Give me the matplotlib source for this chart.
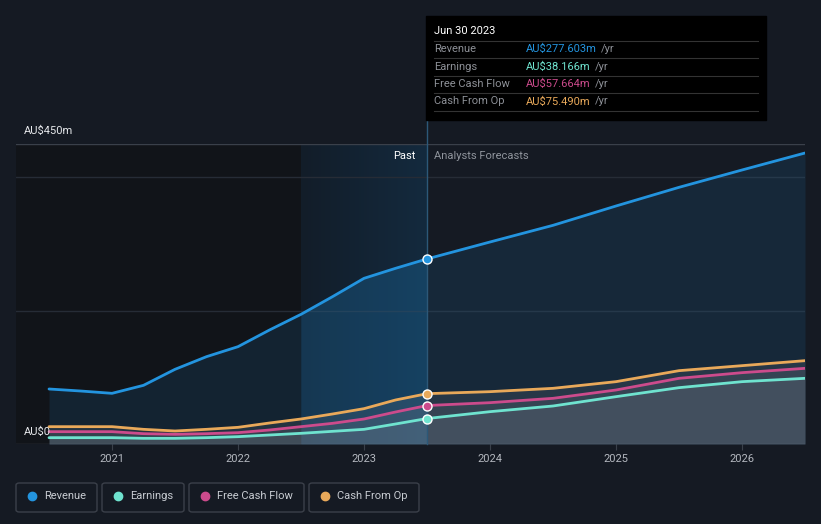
import numpy as np
import matplotlib
matplotlib.use("Agg")
import matplotlib.pyplot as plt
from matplotlib.patches import FancyBboxPatch, Rectangle

plt.rcParams['font.family'] = ['Roboto', 'DejaVu Sans']

# data (AU$ m), decimal years
past_x = [2020.5, 2020.75, 2021.0, 2021.25, 2021.5, 2021.75, 2022.0,
          2022.25, 2022.5, 2022.75, 2023.0, 2023.25, 2023.5]
fc_x = [2023.5, 2024.0, 2024.5, 2025.0, 2025.5, 2026.0, 2026.5]

revenue_past = [82.5, 79.5, 76, 88, 112, 131, 146, 171, 194.5, 221, 248.5, 263.5, 277.6]
revenue_fc = [277.6, 303, 328, 357, 385, 411, 436.5]
earnings_past = [9.5, 9.5, 9.5, 8.5, 8.5, 9.5, 11, 13.5, 16, 19, 22, 30, 38.2]
earnings_fc = [38.2, 48.5, 57, 71, 84.5, 93.5, 98.5]
fcf_past = [18.5, 18.5, 18.5, 15.5, 14.5, 15.5, 17, 21, 26, 31, 37.5, 48, 57.7]
fcf_fc = [57.7, 62, 68.5, 81, 98.5, 107, 113.5]
cfo_past = [26, 26, 26, 22, 19.5, 22, 25, 31.5, 37.5, 45, 53, 66, 75.5]
cfo_fc = [75.5, 78.5, 83.5, 93.5, 110, 117.5, 125]

years = [2021, 2022, 2023, 2024, 2025, 2026]
names = ["Revenue", "Earnings", "Free Cash Flow", "Cash From Op"]
colors = ["#2394df", "#6fe3cf", "#cc4b8c", "#e9a95a"]
tip_values = ["AU$277.603m", "AU$38.166m", "AU$57.664m", "AU$75.490m"]

W, H = 821, 524
bg = "#151a23"
fig = plt.figure(figsize=(W / 100, H / 100), dpi=100, facecolor=bg)
ax = fig.add_axes([16 / W, 80 / H, 789 / W, 300 / H])
ax.set_facecolor(bg)
x0, x1 = 2020.238, 2026.5
ax.set_xlim(x0, x1)
ax.set_ylim(0, 450)
for s in ax.spines.values():
    s.set_visible(False)

# darker past region and highlighted last year
ax.axvspan(x0, 2022.5, color="#111419", zorder=0, lw=0)
grad = np.linspace(0, 1, 200).reshape(1, -1)
ax.imshow(grad, extent=[2022.5, 2023.5, 0, 450], aspect="auto",
          cmap=matplotlib.colors.LinearSegmentedColormap.from_list("h", ["#121d29", "#142a3e"]),
          zorder=0.5)

# grid
for yv, c in [(200, "#262c36"), (400, "#262c36"), (450, "#3a404a"), (0, "#3a404a")]:
    ax.axhline(yv, color=c, lw=1, zorder=1)

series_past = [revenue_past, earnings_past, fcf_past, cfo_past]
series_fc = [revenue_fc, earnings_fc, fcf_fc, cfo_fc]
all_x = past_x + fc_x[1:]

# fills
rev_all = revenue_past + revenue_fc[1:]
ax.fill_between(all_x, rev_all, 0, color="#2394df", alpha=0.12, lw=0, zorder=2)
ax.fill_between(past_x[8:], revenue_past[8:], 0, color="#2394df", alpha=0.12, lw=0, zorder=2)
for sp, sf in zip(series_past[1:], series_fc[1:]):
    ax.fill_between(all_x, sp + sf[1:], 0, color="#9aa0aa", alpha=0.13, lw=0, zorder=2)

# lines
for sp, sf, c in zip(series_past, series_fc, colors):
    ax.plot(all_x, sp + sf[1:], color=c, lw=2, zorder=4, solid_capstyle="round")
    ax.plot([2023.5], [sp[-1]], marker="o", ms=6.5, mfc=c, mec="white", mew=1, zorder=6)

# vertical marker line
ax.plot([2023.5, 2023.5], [0, 450 + 24 * 1.5], color="#2c5878", lw=1, zorder=3, clip_on=False)

ax.set_xticks(years)
ax.set_xticklabels([str(y) for y in years])
ax.tick_params(axis="x", length=4, color="#3a404a", labelcolor="#b4b8bf", labelsize=8, pad=3)
ax.set_yticks([])

# axis labels
fig.text(24 / W, 1 - 131 / H, "AU$450m", color="#e6e8eb", fontsize=8, va="center")
fig.text(24 / W, 1 - 432 / H, "AU$0", color="#e6e8eb", fontsize=8, va="center")
fig.text(416 / W, 1 - 156 / H, "Past", color="#ffffff", fontsize=8, va="center", ha="right")
fig.text(434 / W, 1 - 156 / H, "Analysts Forecasts", color="#8f949c", fontsize=8, va="center")

# tooltip
fig.patches.append(Rectangle((426 / W, 1 - 120 / H), 340 / W, 104 / H,
                             transform=fig.transFigure, color="#000000", zorder=10))
fig.text(434 / W, 1 - 31 / H, "Jun 30 2023", color="#ffffff", fontsize=8, va="center", zorder=11)
for yl in [41, 58, 76, 93, 111]:
    fig.add_artist(plt.Line2D([434 / W, 758 / W], [1 - yl / H, 1 - yl / H],
                              color="#333333", lw=0.8, zorder=11))
for i, (n, v, c) in enumerate(zip(names, tip_values, colors)):
    yy = 1 - (49 + i * 17.5) / H
    fig.text(434 / W, yy, n, color="#8d9097", fontsize=8, va="center", zorder=11)
    t = fig.text(526 / W, yy, v, color=c, fontsize=8, va="center", zorder=11)
    fig.canvas.draw()
    bb = t.get_window_extent()
    fig.text((bb.x1 + 4) / W, yy, "/yr", color="#8d9097", fontsize=8, va="center", zorder=11)

# legend
boxes = [(16, 97), (102, 184), (189, 304), (309, 419)]
for (bx0, bx1), n, c in zip(boxes, names, colors):
    fig.patches.append(FancyBboxPatch((bx0 / W, 1 - 512 / H), (bx1 - bx0) / W, 29 / H,
                                      boxstyle="round,pad=0,rounding_size=0.004",
                                      transform=fig.transFigure, fc="none",
                                      ec="#3b404a", lw=1))
    fig.add_artist(plt.Line2D([(bx0 + 16) / W], [1 - 496 / H], marker="o", ms=6,
                              mfc=c, mec=c, transform=fig.transFigure))
    fig.text((bx0 + 28) / W, 1 - 496 / H, n, color="#c8ccd2", fontsize=8, va="center")

fig.savefig("out.png", dpi=100, facecolor=bg)
